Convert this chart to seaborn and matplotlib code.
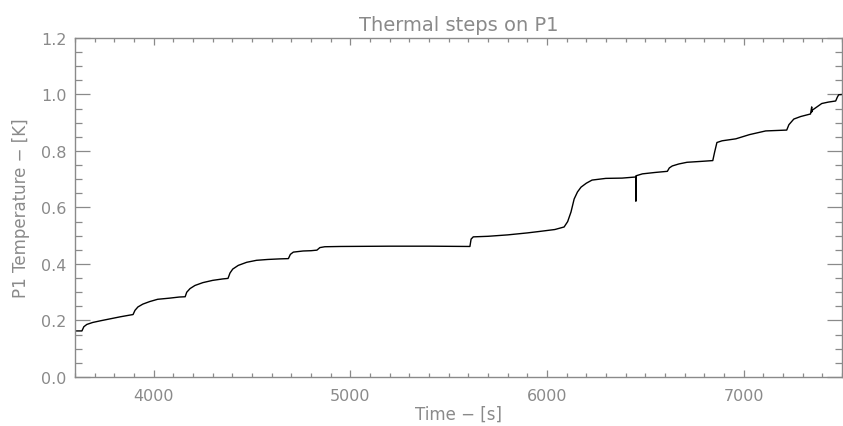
import numpy as np
import pandas as pd
import matplotlib
matplotlib.use("Agg")
import matplotlib.pyplot as plt
from matplotlib.ticker import MultipleLocator
import seaborn as sns


# ── Data ──────────────────────────────────────────────────────────────────────

time_s = [
    3600, 3635, 3645, 3660, 3690, 3730, 3780, 3830, 3870, 3895,
    3905, 3920, 3945, 3980, 4020, 4080, 4130, 4160,
    4168, 4185, 4210, 4250, 4300, 4350, 4378,
    4388, 4402, 4430, 4473, 4523, 4580, 4640, 4685,
    4695, 4710, 4760, 4800, 4830,
    4845, 4870, 4950, 5200, 5400, 5608,
    5614, 5625, 5700, 5800, 5900, 5960, 6040, 6087,
    6105, 6122, 6138, 6155, 6173, 6200, 6229, 6299, 6382, 6452,
    6452, 6452, 6485, 6550, 6612,
    6622, 6637, 6670, 6712, 6780, 6843,
    6852, 6864, 6890, 6960, 7030, 7112, 7219,
    7230, 7255, 7290, 7340, 7346, 7346, 7350,
    7397, 7430, 7468, 7476, 7483, 7500,
]
temp_k = [
    0.163, 0.163, 0.178, 0.186, 0.193, 0.199, 0.206, 0.213, 0.218, 0.221,
    0.236, 0.248, 0.258, 0.267, 0.275, 0.279, 0.283, 0.284,
    0.300, 0.313, 0.324, 0.334, 0.342, 0.347, 0.349,
    0.368, 0.382, 0.395, 0.406, 0.413, 0.416, 0.418, 0.419,
    0.434, 0.442, 0.446, 0.447, 0.449,
    0.458, 0.461, 0.462, 0.463, 0.463, 0.462,
    0.488, 0.496, 0.498, 0.503, 0.510, 0.515, 0.522, 0.531,
    0.550, 0.584, 0.630, 0.655, 0.672, 0.686, 0.697, 0.703, 0.704, 0.708,
    0.623, 0.712, 0.719, 0.724, 0.728,
    0.740, 0.747, 0.754, 0.760, 0.763, 0.766,
    0.795, 0.830, 0.836, 0.843, 0.858, 0.871, 0.874,
    0.893, 0.913, 0.922, 0.931, 0.956, 0.938, 0.945,
    0.968, 0.973, 0.977, 0.990, 0.999, 1.000,
]

x_limits = (3600, 7500)
y_limits = (0.0, 1.2)

df = pd.DataFrame({"time": time_s, "temp": temp_k})

# ── Style ─────────────────────────────────────────────────────────────────────

grey = "#8a8a8a"
sns.set_style("ticks")
plt.rcParams["font.family"] = ["DejaVu Sans"]
plt.rcParams["axes.edgecolor"] = grey
plt.rcParams["xtick.color"] = grey
plt.rcParams["ytick.color"] = grey
plt.rcParams["axes.labelcolor"] = grey
plt.rcParams["text.color"] = grey

fig = plt.figure(figsize=(8.43, 4.27), dpi=100)
ax = fig.add_axes([0.089, 0.1148, 0.9098, 0.7939])

sns.lineplot(data=df, x="time", y="temp", ax=ax, color="black",
             linewidth=1.0, estimator=None, sort=False)

ax.set_xlim(*x_limits)
ax.set_ylim(*y_limits)
ax.xaxis.set_major_locator(MultipleLocator(1000))
ax.xaxis.set_minor_locator(MultipleLocator(100))
ax.yaxis.set_major_locator(MultipleLocator(0.2))
ax.yaxis.set_minor_locator(MultipleLocator(0.05))
ax.yaxis.set_major_formatter(matplotlib.ticker.FormatStrFormatter("%.1f"))

ax.tick_params(axis="both", which="both", direction="in",
               top=True, right=True, width=0.9, labelsize=11.5)
ax.tick_params(axis="x", which="major", length=5, pad=8)
ax.tick_params(axis="x", which="minor", length=3)
ax.tick_params(axis="y", which="major", length=11, pad=6)
ax.tick_params(axis="y", which="minor", length=5)
for sp in ax.spines.values():
    sp.set_visible(True)
    sp.set_linewidth(1.0)
    sp.set_color(grey)

ax.set_title("Thermal steps on P1", fontsize=14, color=grey, pad=6)
ax.set_xlabel("Time \u2212 [s]", fontsize=12, labelpad=1)
ax.set_ylabel("P1 Temperature \u2212 [K]", fontsize=12, labelpad=8)

fig.savefig("out.png", dpi=100)
